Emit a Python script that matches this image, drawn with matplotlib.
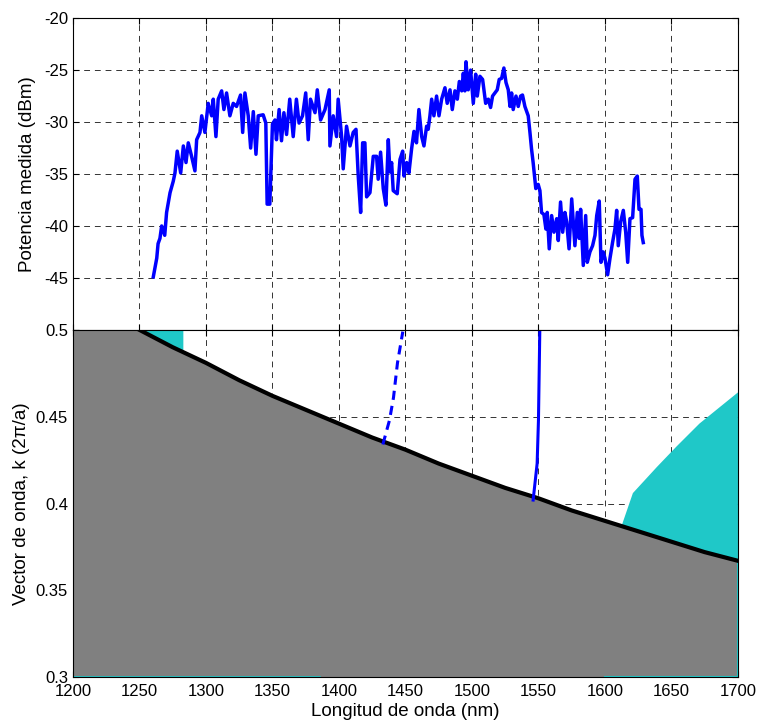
import matplotlib
matplotlib.use("Agg")
import matplotlib.pyplot as plt

plt.rcParams['font.family'] = ['Liberation Sans', 'DejaVu Sans']
plt.rcParams['font.size'] = 12

# measured spectrum (nm, dBm)
wl = [1260.4, 1263, 1264, 1265.4, 1266.7, 1269, 1270.4, 1273, 1275.4, 1276.7,
      1278.4, 1281, 1283, 1285, 1286.7, 1289.2, 1291.7, 1293, 1295.5, 1296.8,
      1299.2, 1301.7, 1304.3, 1305.5, 1307.5, 1309.2, 1311.8, 1313.5, 1315.5, 1318,
      1320.5, 1323, 1326, 1327.6, 1329.3, 1331.8, 1333.6, 1335.6, 1337.6, 1339.3,
      1343, 1345, 1346, 1348, 1350, 1351.9, 1353, 1355, 1356.8, 1358.6,
      1360.6, 1363, 1365.6, 1368, 1370, 1372.6, 1375, 1376.9, 1378.6, 1382,
      1383.7, 1386.2, 1389.5, 1392.7, 1393.2, 1395.7, 1398.2, 1399.4, 1402, 1403.2,
      1405.7, 1408.3, 1410.7, 1412.8, 1414.5, 1416.3, 1417.8, 1419.5, 1420.8, 1423.3,
      1425.8, 1428.3, 1429.5, 1431.3, 1433.3, 1435.3, 1437.1, 1438.3, 1439.6, 1440.8,
      1443.8, 1445.9, 1447.9, 1448.9, 1450.9, 1452.6, 1454.6, 1456.4, 1458.3, 1460.1,
      1462.2, 1463.9, 1465.9, 1467.1, 1468.4, 1469.7, 1471.4, 1473.4, 1475.2, 1477.2,
      1479.7, 1481.4, 1483.5, 1485.2, 1487.2, 1489, 1490.5, 1492.3, 1493.5, 1494.7,
      1495.5, 1497.2, 1499, 1501, 1502.8, 1504, 1506, 1508, 1510.3, 1512.3,
      1514, 1515.5, 1517.3, 1519, 1520.5, 1522.3, 1524, 1525.6, 1527.3, 1528.6,
      1529.8, 1531, 1533.1, 1534.8, 1536.6, 1538, 1539.8, 1542.3, 1543.6, 1544.8,
      1546, 1548, 1549.8, 1551.1, 1552.3, 1554.1, 1555.6, 1556.6, 1558.1, 1559.9,
      1561.7, 1563.7, 1564.9, 1566.6, 1568.2, 1569.9, 1571.2, 1573, 1575, 1577.4,
      1579.2, 1580.7, 1581.7, 1583.7, 1585.5, 1586.7, 1588.7, 1590.7, 1592.5, 1593.8,
      1595.7, 1597, 1598.7, 1600, 1602, 1603.8, 1605.7, 1607.5, 1608.8, 1610,
      1611.8, 1613.8, 1615.6, 1617.1, 1618.8, 1620.8, 1622.6, 1624.3, 1625.6, 1627.1,
      1627.8, 1628.8]
power = [-44.9, -43.1, -41.7, -41.2, -40.0, -40.9, -38.7, -36.8, -35.7, -34.9,
         -32.8, -34.9, -32.3, -33.9, -32.0, -33.3, -34.7, -31.7, -31.0, -29.4,
         -31.0, -28.2, -29.4, -27.8, -31.4, -27.8, -27.0, -28.8, -27.2, -29.4,
         -28.2, -28.5, -27.4, -31.0, -27.2, -29.4, -32.5, -29.0, -33.1, -29.4,
         -29.3, -30.1, -37.9, -37.9, -30.2, -29.8, -31.7, -28.8, -31.8, -29.1,
         -31.2, -27.8, -31.4, -27.8, -30.1, -29.4, -27.2, -31.7, -27.8, -29.1,
         -26.9, -29.8, -28.8, -26.9, -32.3, -29.4, -31.4, -27.8, -31.4, -34.5,
         -30.4, -32.3, -31.0, -30.7, -35.2, -38.7, -32.0, -32.0, -37.2, -36.8,
         -33.3, -33.3, -35.5, -32.9, -36.4, -38.0, -31.7, -34.8, -33.9, -36.6,
         -36.9, -33.6, -32.8, -35.2, -33.9, -34.9, -32.6, -30.9, -32.0, -28.8,
         -31.4, -32.3, -30.4, -30.7, -29.4, -27.8, -29.4, -27.5, -29.4, -27.8,
         -26.7, -28.2, -26.9, -28.8, -27.0, -27.8, -26.1, -27.0, -25.3, -27.0,
         -24.2, -26.9, -25.0, -28.2, -25.4, -27.5, -25.6, -25.9, -28.2, -27.8,
         -28.6, -27.5, -27.2, -26.9, -25.9, -25.8, -24.8, -26.2, -26.9, -28.5,
         -27.2, -28.8, -27.5, -28.5, -27.5, -27.4, -28.5, -29.4, -31.0, -32.6,
         -33.9, -36.4, -36.0, -36.6, -38.7, -38.9, -40.3, -38.7, -42.2, -39.0,
         -40.6, -39.3, -41.4, -37.7, -40.6, -38.7, -39.6, -42.2, -37.4, -41.9,
         -38.7, -41.2, -38.4, -43.8, -39.0, -43.5, -42.5, -41.9, -40.9, -39.0,
         -37.6, -43.5, -42.5, -43.1, -44.7, -43.1, -41.6, -40.3, -38.5, -41.9,
         -39.6, -38.5, -40.6, -43.5, -39.3, -39.2, -35.5, -35.2, -38.4, -38.4,
         -40.9, -41.6]

# light line (nm, k in 2pi/a)
light_wl = [1200, 1250, 1275, 1300, 1325, 1350, 1375, 1400, 1425, 1450, 1475,
            1500, 1525, 1550, 1575, 1600, 1625, 1650, 1675, 1700]
light_k = [0.5, 0.5, 0.490, 0.481, 0.471, 0.462, 0.454, 0.446, 0.438, 0.431, 0.423,
           0.416, 0.409, 0.403, 0.396, 0.390, 0.384, 0.378, 0.372, 0.367]

# guided bands
band_dash_wl = [1433, 1438, 1441, 1444, 1448]
band_dash_k = [0.434, 0.448, 0.461, 0.481, 0.499]
band_solid_wl = [1546, 1549, 1550, 1551]
band_solid_k = [0.402, 0.423, 0.448, 0.499]

# cyan regions
cyan1_wl = [1250, 1283, 1283, 1275, 1250]
cyan1_k = [0.5, 0.5, 0.487, 0.490, 0.5]
cyan2_wl = [1612, 1621, 1639, 1654, 1671, 1700, 1700, 1675, 1650, 1625, 1612]
cyan2_k = [0.386, 0.406, 0.421, 0.433, 0.446, 0.464, 0.367, 0.372, 0.378, 0.384, 0.386]

gray = '#808080'
cyan = '#1fc8c8'

fig = plt.figure(figsize=(7.6, 7.25), dpi=100)
ax1 = fig.add_axes([0.096, 0.545, 0.875, 0.430])
ax2 = fig.add_axes([0.096, 0.066, 0.875, 0.479])

grid_kw = dict(color='black', linestyle=(0, (6, 5)), linewidth=0.7, alpha=0.8)

ax1.plot(wl, power, color='blue', linewidth=2.5)
ax1.set_xlim(1200, 1700)
ax1.set_ylim(-50, -20)
ax1.set_yticks([-50, -45, -40, -35, -30, -25, -20])
ax1.set_yticklabels(['', '-45', '-40', '-35', '-30', '-25', '-20'])
ax1.set_xticks(range(1200, 1701, 50))
ax1.set_xticklabels([])
ax1.grid(True, **grid_kw)
ax1.set_ylabel('Potencia medida (dBm)', fontsize=13.5, labelpad=6)

ax2.set_axisbelow(True)
ax2.fill_between(light_wl, 0.3, light_k, color=gray, linewidth=0, zorder=2)
ax2.fill(cyan1_wl, cyan1_k, color=cyan, linewidth=0, zorder=2.5)
ax2.fill(cyan2_wl, cyan2_k, color=cyan, linewidth=0, zorder=2.5)
ax2.plot([1200, 1385], [0.3, 0.3], color=cyan, linewidth=2, zorder=2.6)
ax2.plot([1600, 1700, 1700], [0.3, 0.3, 0.367], color=cyan, linewidth=1.5, zorder=2.6)
ax2.plot(light_wl[1:], light_k[1:], color='black', linewidth=3, zorder=3)
ax2.plot(band_dash_wl, band_dash_k, color='blue', linewidth=2.2,
         linestyle=(0, (3, 2)), zorder=3)
ax2.plot(band_solid_wl, band_solid_k, color='blue', linewidth=2.2, zorder=3)
ax2.set_xlim(1200, 1700)
ax2.set_ylim(0.3, 0.5)
ax2.set_xticks(range(1200, 1701, 50))
ax2.set_yticks([0.3, 0.35, 0.4, 0.45, 0.5])
ax2.set_yticklabels(['0.3', '0.35', '0.4', '0.45', '0.5'])
ax2.grid(True, **grid_kw)
ax2.set_ylabel('Vector de onda, k (2\u03c0/a)', fontsize=13.5, labelpad=4)
ax2.set_xlabel('Longitud de onda (nm)', fontsize=13.5, labelpad=3)

for ax in (ax1, ax2):
    ax.tick_params(direction='in', top=True, right=True, length=4, labelsize=12)
    for s in ax.spines.values():
        s.set_linewidth(0.8)
        s.set_zorder(5)
ax2.tick_params(axis='x', pad=5)

fig.savefig('out.png', dpi=100)
